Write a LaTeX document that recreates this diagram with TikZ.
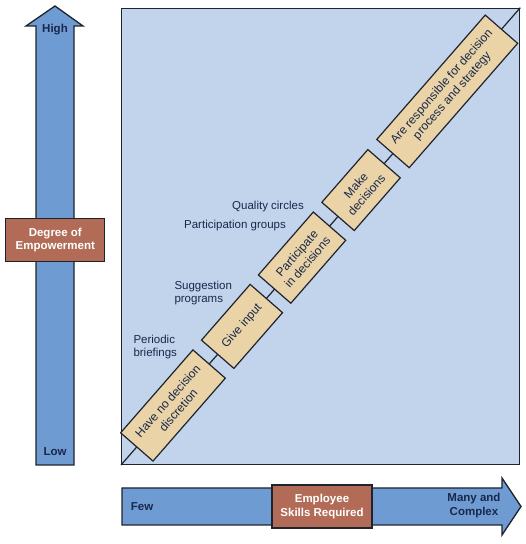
\documentclass[tikz,border=0pt]{standalone}
\usepackage{fontspec}
\setmainfont{Liberation Sans}
\usetikzlibrary{calc}
\definecolor{arrowblue}{RGB}{111,155,211}
\definecolor{squarefill}{RGB}{193,212,236}
\definecolor{boxfill}{RGB}{233,211,167}
\definecolor{labelbrown}{RGB}{178,107,86}
\definecolor{outline}{RGB}{30,35,45}
\definecolor{textnavy}{RGB}{25,40,75}
\begin{document}
\begin{tikzpicture}[x=1pt,y=1pt,
  axis/.style={fill=arrowblue, draw=outline, line width=1.3pt, line join=miter},
  tag/.style={fill=labelbrown, draw=outline, line width=1.3pt, text=white, font=\bfseries\fontsize{11.5}{13.5}\selectfont, align=center, inner sep=0pt},
  stepbox/.style={fill=boxfill, draw=outline, line width=1.2pt, rotate=48.9, minimum height=43pt, inner sep=0pt, align=center, text=textnavy, font=\fontsize{12}{14}\selectfont},
  note/.style={text=textnavy, font=\fontsize{11.5}{13}\selectfont, align=left, inner sep=0pt},
  axislabel/.style={text=textnavy, font=\bfseries\fontsize{11.5}{13.5}\selectfont, align=center, inner sep=0pt}]
\useasboundingbox (0,0) rectangle (526,544);
% main square
\node[draw=outline, fill=squarefill, line width=1.3pt, minimum width=398pt, minimum height=456pt, anchor=south west, inner sep=0pt] (sq) at (121,79) {};
\draw[outline, line width=1.2pt] (sq.south west) -- (sq.north east);
% steps
\node[stepbox, minimum width=110pt] (b1) at ($(sq.south west)!79pt!(sq.north east)$) {Have no decision\\discretion};
\node[stepbox, minimum width=74pt] (b2) at ($(sq.south west)!184pt!(sq.north east)$) {Give input};
\node[stepbox, minimum width=83.5pt] (b3) at ($(sq.south west)!275.3pt!(sq.north east)$) {Participate\\in decisions};
\node[stepbox, minimum width=70pt] (b4) at ($(sq.south west)!365pt!(sq.north east)$) {Make\\decisions};
\node[stepbox, minimum width=165pt] (b5) at ($(sq.south west)!496pt!(sq.north east)$) {Are responsible for decision\\process and strategy};
% notes
\node[note] (qc) at (268,337.3) {Quality circles};
\node[note] (pg) at (235,318) {Participation groups};
\node[note, anchor=west] (sp) at (174.3,251) {Suggestion\\programs};
\node[note, anchor=west] (pb) at (133.3,197.3) {Periodic\\briefings};
% vertical arrow
\path[axis] (36,79) -- (36,518) -- (26,518) -- (55,538) -- (83,518) -- (74,518) -- (74,79) -- cycle;
\node[axislabel] (high) at (55,514) {High};
\node[axislabel] (low) at (55,92) {Low};
\node[tag, minimum width=99pt, minimum height=43pt] (emp) at (55.3,304) {Degree of\\Empowerment};
% horizontal arrow
\path[axis] (122,56) -- (502,56) -- (502,66) -- (521,37.5) -- (502,9) -- (502,19) -- (122,19) -- cycle;
\node[axislabel, anchor=west] (few) at (130.7,37.3) {Few};
\node[axislabel] (many) at (474,38.5) {Many and\\Complex};
\node[tag, minimum width=100pt, minimum height=43pt] (esr) at (322,37.5) {Employee\\Skills Required};
\end{tikzpicture}
\end{document}
